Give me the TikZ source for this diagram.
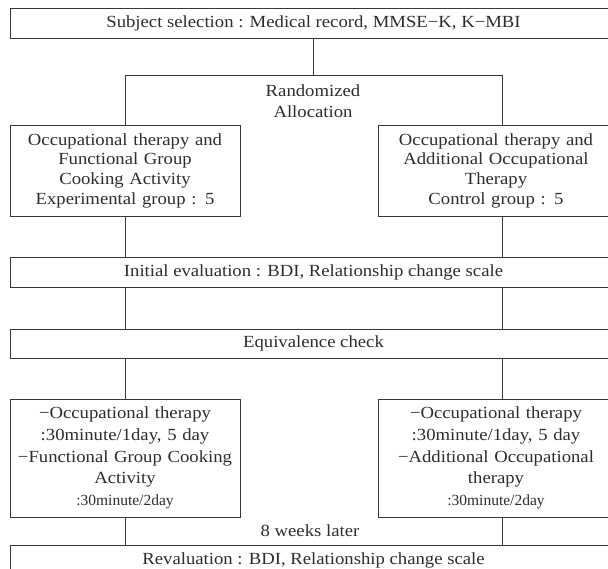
\documentclass[tikz,border=0pt]{standalone}
\usepackage{fontspec}
\setmainfont{Liberation Serif}[FakeStretch=1.1]
\newfontfamily\slimfam{Liberation Serif}
\usepackage{tikz}
\usetikzlibrary{positioning}
\definecolor{boxline}{RGB}{55,55,55}
\definecolor{boxtext}{RGB}{45,45,45}
\newcommand{\flowfont}{\fontsize{17}{20.5}\selectfont}
\newcommand{\slimfont}{\slimfam\fontsize{15.5}{21.7}\selectfont}
\tikzset{
  widebox/.style={rectangle, draw=boxline, minimum width=607pt, minimum height=30pt,
    font=\flowfont, text=boxtext, inner sep=0pt, line width=0.9pt},
  groupbox/.style={rectangle, draw=boxline, text width=230pt, align=center,
    minimum height=91pt, font=\fontsize{17}{19.7}\selectfont, text=boxtext, inner sep=0pt, line width=0.9pt},
  txbox/.style={groupbox, minimum height=118pt, font=\fontsize{17}{21.7}\selectfont},
  plain/.style={font=\flowfont, text=boxtext, align=center, inner sep=0pt},
  line/.style={line width=0.9pt, color=boxline}
}

\begin{document}
\begin{tikzpicture}[x=1pt, y=-1pt]
  \useasboundingbox (0,0) rectangle (608,568);
  \clip (0,0) rectangle (608,568);

  % Nodes
  \node[widebox] (sel) at (313.5,23) {Subject selection : Medical record, MMSE−K, K−MBI};
  \node[plain] (alloc) at (313,101) {Randomized\\Allocation};
  \coordinate (splitL) at (125,75);
  \coordinate (splitR) at (502,75);
  \node[groupbox] (expgrp) at (125,170.5) {Occupational therapy and\\Functional Group\\Cooking Activity\\Experimental group : 5};
  \node[groupbox, text width=236pt] (ctlgrp) at (496,170.5) {Occupational therapy and\\Additional Occupational\\Therapy\\Control group : 5};
  \node[widebox] (init) at (313.5,272) {Initial evaluation : BDI, Relationship change scale};
  \node[widebox, minimum height=29pt] (equiv) at (313.5,343.5) {Equivalence check};
  \node[txbox] (exptx) at (125,458) {−Occupational therapy\\:30minute/1day, 5 day\\−Functional Group Cooking\\Activity\\{\slimfont :30minute/2day}};
  \node[txbox, text width=236pt] (ctltx) at (496,458) {−Occupational therapy\\:30minute/1day, 5 day\\−Additional Occupational\\therapy\\{\slimfont :30minute/2day}};
  \node[plain] (weeks) at (310,531) {8 weeks later};
  \node[widebox] (reval) at (313.5,560) {Revaluation : BDI, Relationship change scale};

  % Paths
  \draw[line] (sel.south) -- (sel.south |- splitL);
  \draw[line] (expgrp.north) -- (splitL) -- (splitR) -- (ctlgrp.north -| splitR);
  \draw[line] (expgrp.south) -- (init.north -| expgrp.south);
  \draw[line] (ctlgrp.south -| splitR) -- (init.north -| splitR);
  \draw[line] (init.south -| expgrp.south) -- (equiv.north -| expgrp.south);
  \draw[line] (init.south -| splitR) -- (equiv.north -| splitR);
  \draw[line] (equiv.south -| exptx.north) -- (exptx.north);
  \draw[line] (equiv.south -| splitR) -- (ctltx.north -| splitR);
  \draw[line] (exptx.south) -- (reval.north -| exptx.south);
  \draw[line] (ctltx.south -| splitR) -- (reval.north -| splitR);
\end{tikzpicture}
\end{document}
